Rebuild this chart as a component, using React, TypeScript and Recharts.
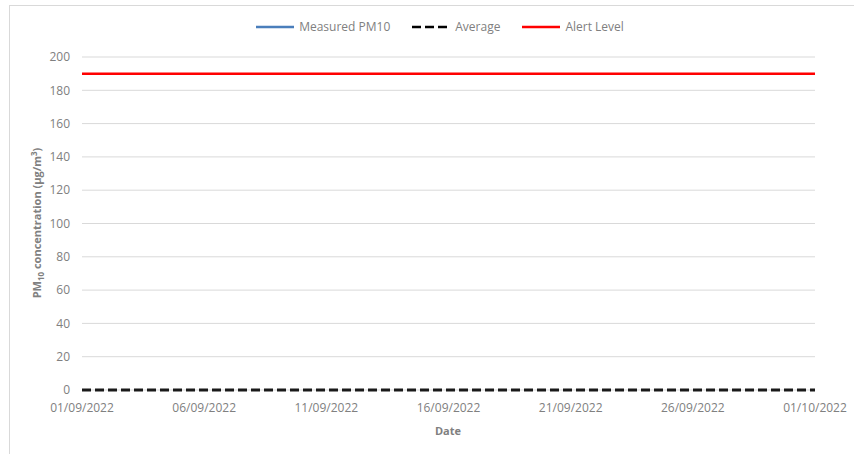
import React from "react";
import { LineChart, Line, XAxis, YAxis, CartesianGrid, Legend } from "recharts";

// day offsets from 01/09/2022 where the series are known
const dayIndex = [0, 30];
const measuredPM10: (number | null)[] = [null, null];
const average = [0, 0];
const alertLevel = [190, 190];

const dateTicks = [0, 5, 10, 15, 20, 25, 30];
const dateLabels = ["01/09/2022", "06/09/2022", "11/09/2022", "16/09/2022", "21/09/2022", "26/09/2022", "01/10/2022"];
const yTicks = [0, 20, 40, 60, 80, 100, 120, 140, 160, 180, 200];

const data = dayIndex.map((d, i) => ({
  day: d,
  measured: measuredPM10[i],
  average: average[i],
  alert: alertLevel[i],
}));

const FONT = "'Open Sans', 'Liberation Sans', sans-serif";
const GREY = "#808080";

const legendItems = [
  { label: "Measured PM10", color: "#4a7ebb", dash: undefined as string | undefined },
  { label: "Average", color: "#000000", dash: "9 4" },
  { label: "Alert Level", color: "#ff0000", dash: undefined as string | undefined },
];

function ChartLegend() {
  return (
    <div style={{ display: "flex", justifyContent: "center", gap: 22, fontFamily: FONT, fontSize: 12, color: GREY }}>
      {legendItems.map((it) => (
        <div key={it.label} style={{ display: "flex", alignItems: "center", gap: 5 }}>
          <svg width={38} height={6}>
            <line x1={0} y1={3} x2={38} y2={3} stroke={it.color} strokeWidth={2.5} strokeDasharray={it.dash} />
          </svg>
          <span>{it.label}</span>
        </div>
      ))}
    </div>
  );
}

export default function App() {
  return (
    <div style={{ position: "absolute", left: 0, top: 0, width: 854, height: 454, background: "#fff" }}>
      <div style={{ position: "absolute", left: 9, top: 5, right: 0, bottom: 0, borderTop: "1.5px solid #d9d9d9", borderLeft: "1.5px solid #d9d9d9" }} />
      <div style={{ position: "absolute", left: 0, top: 0 }}>
        <LineChart width={854} height={454} data={data} margin={{ top: 40, right: 39, bottom: 34, left: 20 }}>
          <CartesianGrid vertical={false} stroke="#d9d9d9" strokeWidth={1} />
          <XAxis
            dataKey="day"
            type="number"
            domain={[0, 30]}
            ticks={dateTicks}
            tickFormatter={(v: number) => dateLabels[dateTicks.indexOf(v)] ?? ""}
            axisLine={false}
            tickLine={false}
            tickSize={0}
            tickMargin={13}
            height={30}
            tick={{ fontSize: 12, fill: GREY, fontFamily: FONT }}
          />
          <YAxis
            domain={[0, 200]}
            ticks={yTicks}
            interval={0}
            axisLine={false}
            tickLine={false}
            tickSize={0}
            tickMargin={12}
            width={62}
            tick={{ fontSize: 12, fill: GREY, fontFamily: FONT }}
          />
          <Legend verticalAlign="top" content={() => <ChartLegend />} wrapperStyle={{ top: 18, left: 13, width: 854 }} />
          <Line dataKey="measured" stroke="#4a7ebb" strokeWidth={2.5} dot={false} isAnimationActive={false} connectNulls={false} />
          <Line dataKey="average" stroke="#1a1a1a" strokeWidth={3} strokeDasharray="9 4" dot={false} isAnimationActive={false} />
          <Line dataKey="alert" stroke="#ff0000" strokeWidth={2.5} dot={false} isAnimationActive={false} />
        </LineChart>
      </div>
      <div
        style={{
          position: "absolute",
          left: 37,
          top: 223,
          transform: "translate(-50%, -50%) rotate(-90deg)",
          whiteSpace: "nowrap",
          fontFamily: FONT,
          fontSize: 11,
          fontWeight: 700,
          color: GREY,
        }}
      >
        PM<sub style={{ fontSize: 8 }}>10</sub> concentration (μg/m<sup style={{ fontSize: 8 }}>3</sup>)
      </div>
      <div
        style={{
          position: "absolute",
          left: 448,
          top: 430,
          transform: "translate(-50%, -50%)",
          fontFamily: FONT,
          fontSize: 11,
          fontWeight: 700,
          color: GREY,
        }}
      >
        Date
      </div>
    </div>
  );
}
